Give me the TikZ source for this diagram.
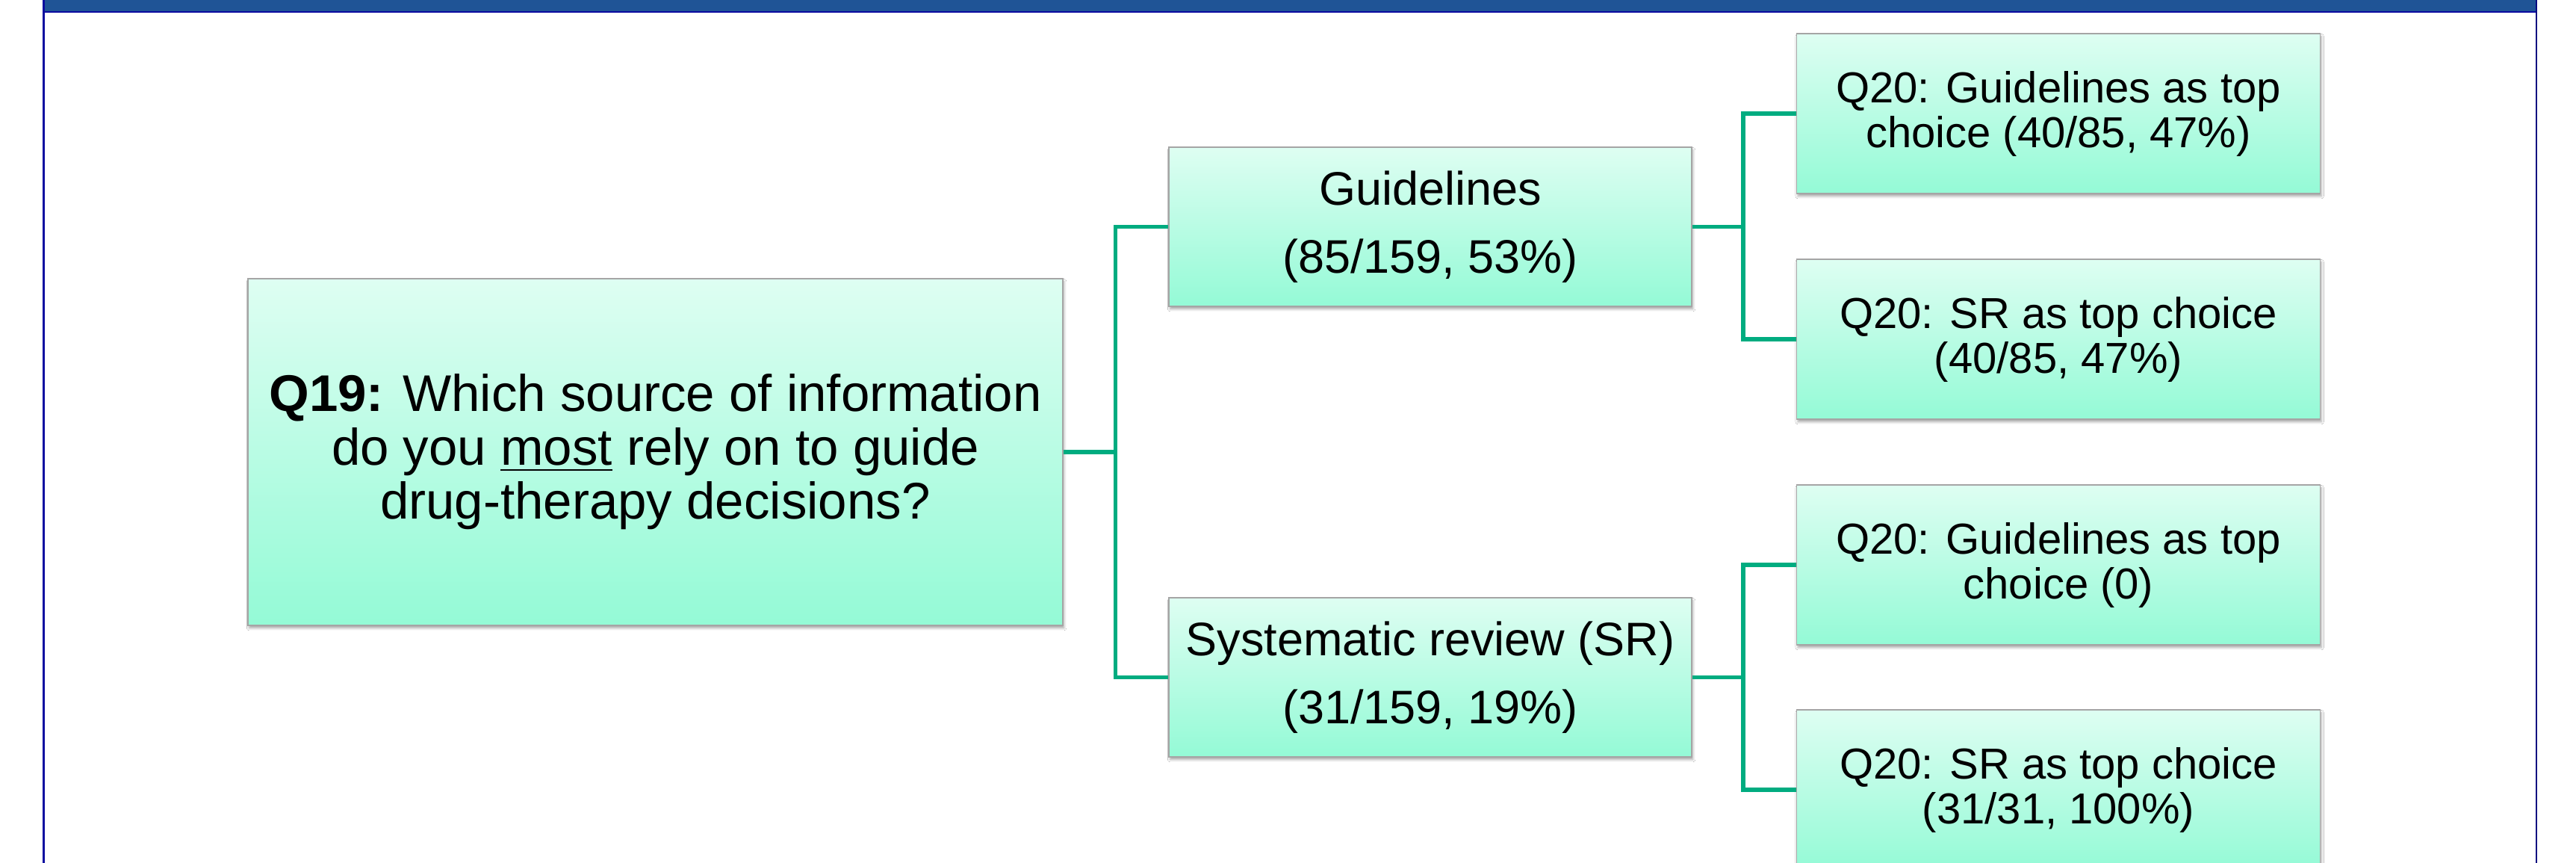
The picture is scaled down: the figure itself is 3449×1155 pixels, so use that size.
\documentclass[tikz,border=0pt]{standalone}
\usepackage{fontspec}
\setmainfont{Liberation Sans}
\usetikzlibrary{shadows.blur}
\definecolor{bannerblue}{RGB}{31,84,150}
\definecolor{framenavy}{RGB}{10,10,160}
\definecolor{conncol}{RGB}{0,172,128}
\definecolor{boxtop}{RGB}{222,254,242}
\definecolor{boxbot}{RGB}{148,250,214}
\definecolor{boxline}{RGB}{165,165,165}
\tikzset{
  box/.style={draw=boxline, line width=0.4pt, top color=boxtop, bottom color=boxbot,
    inner sep=0pt, align=center, text=black,
    blur shadow={shadow xshift=0.4pt, shadow yshift=-0.9pt, shadow blur radius=0.8pt, shadow blur steps=4, shadow opacity=35}},
  rootbox/.style={box, minimum width=272.75pt, minimum height=116pt,
    font=\fontsize{17.25pt}{18pt}\selectfont},
  midbox/.style={box, minimum width=175pt, minimum height=53.25pt,
    font=\fontsize{15.75pt}{22.75pt}\selectfont},
  leafbox/.style={box, minimum width=175.25pt, minimum height=53.5pt,
    font=\fontsize{14.5pt}{15pt}\selectfont},
  conn/.style={draw=conncol, line width=1.4pt}
}
\begin{document}
\begin{tikzpicture}[x=0.25pt, y=-0.25pt]
\clip (0,0) rectangle (3449,1155);
\useasboundingbox (0,0) rectangle (3449,1155);
\fill[white] (0,0) rectangle (3449,1155);
% frame and banner
\fill[bannerblue] (59,0) rectangle (3395,15);
\fill[framenavy] (59,15) rectangle (3395,17.5);
\draw[framenavy, line width=0.65pt] (58.7,0) -- (58.7,1155);
\draw[framenavy!80!black, line width=0.4pt] (3396,0) -- (3396,1155);
% junction points
\coordinate (j1) at (1493.5,605);
\coordinate (j2) at (2334,303);
\coordinate (j3) at (2334,906);
% nodes
\node[rootbox] (q19) at (877.5,605) {\textbf{Q19:} Which source of information\\do you \underline{most} rely on to guide\\drug-therapy decisions?};
\node[midbox] (gl) at (1915,303.5) {Guidelines\\(85/159, 53\%)};
\node[midbox] (sr) at (1915,906.5) {Systematic review (SR)\\(31/159, 19\%)};
\node[leafbox] (a) at (2756,152) {Q20: Guidelines as top\\choice (40/85, 47\%)};
\node[leafbox] (b) at (2756,454) {Q20: SR as top choice\\(40/85, 47\%)};
\node[leafbox] (c) at (2756,756) {Q20: Guidelines as top\\choice (0)};
\node[leafbox] (d) at (2756,1057) {Q20: SR as top choice\\(31/31, 100\%)};
% connectors
\draw[conn] (q19.east) -- (j1) |- (gl.west);
\draw[conn] (j1) |- (sr.west);
\draw[conn] (gl.east) -- (gl.east -| j2) |- (a.west);
\draw[conn] (gl.east -| j2) |- (b.west);
\draw[conn] (sr.east) -- (sr.east -| j3) |- (c.west);
\draw[conn] (sr.east -| j3) |- (d.west);
\end{tikzpicture}
\end{document}
